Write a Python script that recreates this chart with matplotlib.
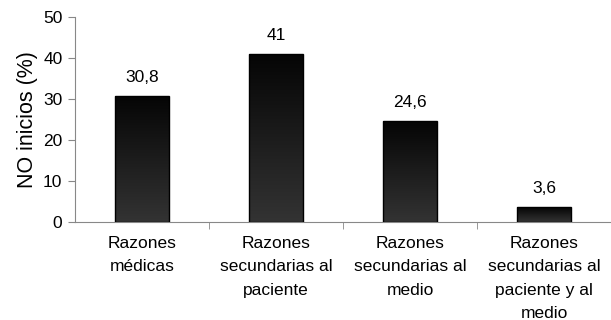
import numpy as np
import matplotlib.pyplot as plt
from matplotlib.colors import LinearSegmentedColormap

categorias = ["Razones\nmédicas", "Razones\nsecundarias al\npaciente",
              "Razones\nsecundarias al\nmedio", "Razones\nsecundarias al\npaciente y al\nmedio"]
valores = [30.8, 41, 24.6, 3.6]
etiquetas = ["30,8", "41", "24,6", "3,6"]

plt.rcParams['font.family'] = ['Liberation Sans', 'DejaVu Sans']

fig = plt.figure(figsize=(6.11, 3.2), dpi=100)
ax = fig.add_axes([0.1227, 0.306, 0.8773, 0.641])

x = np.arange(len(valores))
ancho = 0.4
cmap = LinearSegmentedColormap.from_list("grad", ["#050505", "#333333"])
grad = np.linspace(0, 1, 256).reshape(-1, 1)
barras = ax.bar(x, valores, width=ancho, color="none", edgecolor="#000000", linewidth=1.0, zorder=3)
for b in barras:
    x0, y0 = b.get_x(), b.get_y()
    w, h = b.get_width(), b.get_height()
    im = ax.imshow(grad, cmap=cmap, aspect="auto", origin="upper",
                   extent=[x0, x0 + w, y0, y0 + h], zorder=2)
    im.set_clip_path(b)

for xi, v, t in zip(x, valores, etiquetas):
    ax.annotate(t, (xi, v), xytext=(0, 8), textcoords="offset points",
                ha="center", va="bottom", fontsize=12.5)

ax.set_xlim(-0.5, len(valores) - 0.5)
ax.set_ylim(0, 50)
ax.set_yticks(range(0, 51, 10))
ax.set_xticks(x)
ax.set_xticklabels(categorias, fontsize=12.5, linespacing=1.7, va="top")
ax.set_xticks(np.arange(0.5, len(valores) - 0.5, 1), minor=True)
ax.tick_params(axis="x", which="major", length=0, pad=10)
ax.tick_params(axis="x", which="minor", length=5, color="#888888", direction="out")
ax.tick_params(axis="y", labelsize=12.5, length=5, color="#888888", pad=4)
ax.set_ylabel("NO inicios (%)", fontsize=15.5, labelpad=4)

for s in ["top", "right"]:
    ax.spines[s].set_visible(False)
for s in ["left", "bottom"]:
    ax.spines[s].set_color("#888888")

fig.savefig("out.png", dpi=100)
